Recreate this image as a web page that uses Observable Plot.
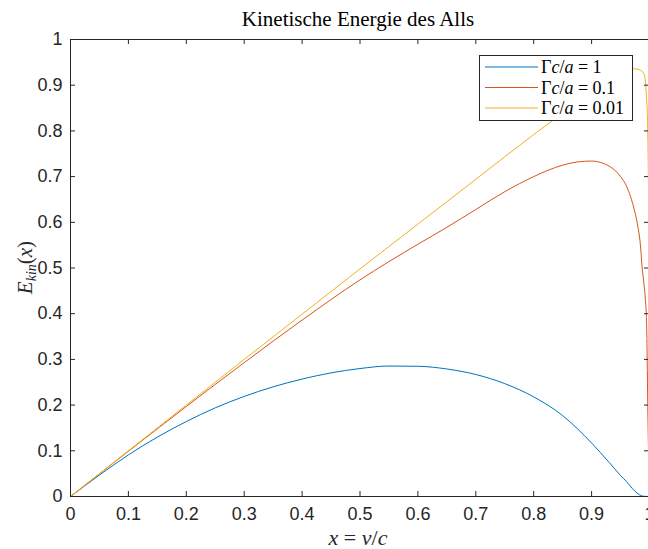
<!DOCTYPE html>
<html>
<head>
<meta charset="utf-8">
<script src="https://cdn.jsdelivr.net/npm/d3@7"></script>
<script src="https://cdn.jsdelivr.net/npm/@observablehq/plot@0.6"></script>
<style>
  html, body { margin: 0; padding: 0; background: white; }
  #chart { width: 648px; height: 549px; overflow: hidden; }
</style>
</head>
<body>
<div id="chart"></div>
<script>
// ---- data ----
const titleText = "Kinetische Energie des Alls";
const seriesNames = ["1", "0.1", "0.01"];
const seriesColors = ["#0072BD", "#D95319", "#EDB120"];

const xTicks = [0, 0.1, 0.2, 0.3, 0.4, 0.5, 0.6, 0.7, 0.8, 0.9, 1];
const yTicks = [0, 0.1, 0.2, 0.3, 0.4, 0.5, 0.6, 0.7, 0.8, 0.9, 1];

const xBlue = [0, 0.05, 0.1, 0.15, 0.2, 0.25, 0.3, 0.35, 0.4, 0.45, 0.5, 0.55, 0.6, 0.65, 0.7, 0.75, 0.8, 0.85, 0.9, 0.93, 0.95, 0.96, 0.97, 0.98, 0.99, 1];
const eBlue = [0, 0.047, 0.091, 0.130, 0.164, 0.194, 0.219, 0.240, 0.257, 0.2705, 0.280, 0.2855, 0.285, 0.279, 0.267, 0.247, 0.218, 0.177, 0.117, 0.075, 0.046, 0.033, 0.018, 0.006, 0.0005, 0];

const xOrange = [0, 0.1, 0.2, 0.3, 0.4, 0.5, 0.55, 0.6, 0.65, 0.7, 0.75, 0.8, 0.825, 0.85, 0.875, 0.9, 0.92, 0.94, 0.95, 0.96, 0.967, 0.975, 0.979, 0.985, 0.987, 0.99, 0.993, 0.995, 0.996, 0.997, 0.998, 1];
const eOrange = [0, 0.099, 0.197, 0.293, 0.386, 0.474, 0.514, 0.552, 0.589, 0.628, 0.667, 0.700, 0.714, 0.725, 0.732, 0.734, 0.729, 0.714, 0.700, 0.680, 0.657, 0.621, 0.597, 0.540, 0.505, 0.470, 0.429, 0.381, 0.300, 0.200, 0.120, 0];

const xYellow = [0, 0.1, 0.2, 0.3, 0.4, 0.5, 0.6, 0.7, 0.8, 0.85, 0.9, 0.93, 0.95, 0.96, 0.97, 0.98, 0.985, 0.99, 0.993, 0.995, 0.997, 0.999, 1];
const eYellow = [0, 0.100, 0.200, 0.300, 0.399, 0.498, 0.596, 0.694, 0.792, 0.839, 0.885, 0.912, 0.929, 0.934, 0.936, 0.935, 0.932, 0.926, 0.907, 0.870, 0.800, 0.500, 0];

const series = [
  xBlue.map((x, i) => ({x, y: eBlue[i], s: seriesNames[0]})),
  xOrange.map((x, i) => ({x, y: eOrange[i], s: seriesNames[1]})),
  xYellow.map((x, i) => ({x, y: eYellow[i], s: seriesNames[2]}))
];

// ---- layout ----
const W = 648, H = 549;
const mL = 70, mR = -1, mT = 39, mB = 53;
const frameW = W - mL - mR, frameH = H - mT - mB;
const tick = 5;
const axisColor = "#262626";

const chart = Plot.plot({
  width: W, height: H,
  marginLeft: mL, marginRight: mR, marginTop: mT, marginBottom: mB,
  x: {domain: [0, 1]},
  y: {domain: [0, 1]},
  style: {fontFamily: "'Liberation Sans', Arial, sans-serif", fontSize: "18px", color: axisColor, background: "white", overflow: "visible"},
  marks: [
    ...series.map((d, i) => Plot.line(d, {x: "x", y: "y", stroke: seriesColors[i], strokeWidth: 1, curve: "monotone-x"})),
    Plot.frame({stroke: axisColor, strokeWidth: 1}),
    Plot.tickX(xTicks, {x: d => d, insetTop: frameH - tick, stroke: axisColor}),
    Plot.tickX(xTicks, {x: d => d, insetBottom: frameH - tick, stroke: axisColor}),
    Plot.tickY(yTicks, {y: d => d, insetRight: frameW - tick, stroke: axisColor}),
    Plot.tickY(yTicks, {y: d => d, insetLeft: frameW - tick, stroke: axisColor}),
    Plot.axisX({ticks: xTicks, tickSize: 0, tickPadding: 11, label: null, tickFormat: d => String(d), fill: axisColor}),
    Plot.axisY({ticks: yTicks, tickSize: 0, tickPadding: 8, label: null, tickFormat: d => String(d), fill: axisColor})
  ]
});
document.getElementById("chart").appendChild(chart);

// ---- text with math formatting ----
const svg = d3.select(chart);
const serif = "'Liberation Serif', 'DejaVu Serif', serif";
const cx = mL + (W - mL) / 2 - 1;

function addParts(textSel, parts) {
  parts.forEach(p => {
    const t = textSel.append("tspan").text(p.t);
    if (p.i) t.attr("font-style", "italic");
    if (p.sub) t.attr("font-size", "14px").attr("dy", "4");
    if (p.up) t.attr("dy", p.up);
    if (p.dx) t.attr("dx", p.dx);
  });
}

// title
svg.append("text")
  .attr("x", cx).attr("y", 26)
  .attr("text-anchor", "middle")
  .attr("font-family", serif).attr("font-size", 21).attr("fill", "black")
  .text(titleText);

// x label
const xl = svg.append("text")
  .attr("x", cx).attr("y", 545)
  .attr("text-anchor", "middle")
  .attr("font-family", serif).attr("font-size", 22).attr("fill", "#262626");
addParts(xl, [{t: "x", i: true}, {t: " = "}, {t: "v", i: true}, {t: "/"}, {t: "c", i: true}]);

// y label
const yl = svg.append("text")
  .attr("transform", `translate(32, ${mT + frameH / 2}) rotate(-90)`)
  .attr("text-anchor", "middle")
  .attr("font-family", serif).attr("font-size", 21).attr("fill", "#262626");
addParts(yl, [{t: "E", i: true}, {t: "kin", i: true, sub: true}, {t: "(", up: "-4"}, {t: "x", i: true}, {t: ")"}]);

// legend
const lg = svg.append("g").attr("text-anchor", "start");
const lx = 479, ly = 55, lw = 153, lh = 65;
lg.append("rect").attr("x", lx + 0.5).attr("y", ly + 0.5).attr("width", lw).attr("height", lh)
  .attr("fill", "white").attr("stroke", axisColor).attr("stroke-width", 1);
seriesNames.forEach((name, i) => {
  const yy = ly + 12 + i * 20.5;
  lg.append("line").attr("x1", lx + 6).attr("x2", lx + 59).attr("y1", yy).attr("y2", yy)
    .attr("stroke", seriesColors[i]).attr("stroke-width", 1);
  const t = lg.append("text").attr("x", lx + 62).attr("y", yy + 6)
    .attr("text-anchor", "start")
    .attr("font-family", serif).attr("font-size", 18).attr("fill", "black");
  addParts(t, [{t: "Γ"}, {t: "c", i: true}, {t: "/"}, {t: "a", i: true}, {t: " = " + name}]);
});
</script>
</body>
</html>
